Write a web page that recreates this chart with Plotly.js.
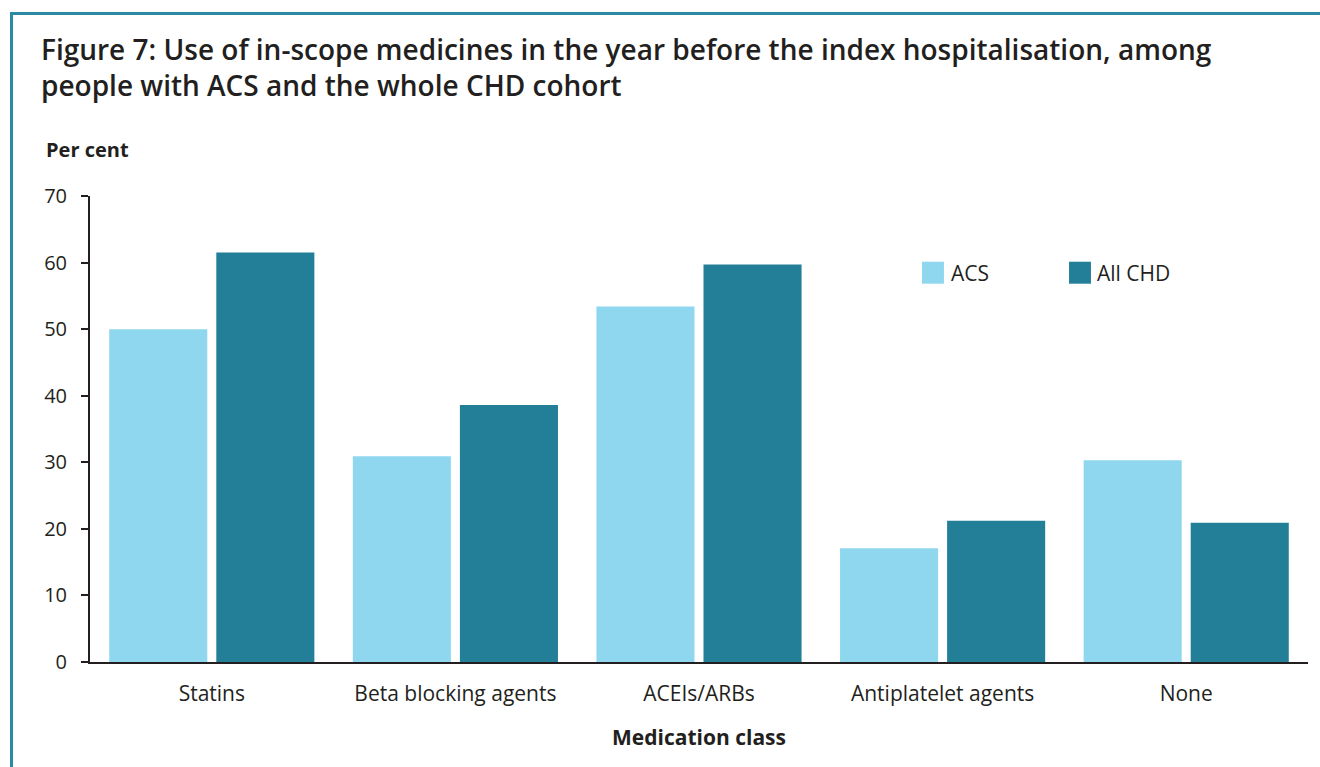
<!DOCTYPE html>
<html>
<head>
<meta charset="utf-8">
<script src="https://cdn.plot.ly/plotly-3.0.1.min.js"></script>
<style>
  html, body { margin: 0; padding: 0; background: #ffffff; }
  #frame { position: absolute; left: 10px; top: 12px; width: 1310px; height: 755px;
           border-left: 3px solid #2a8aa3; border-top: 3px solid #2a8aa3; box-sizing: border-box; }
  #chart { position: absolute; left: 0; top: 0; width: 1320px; height: 767px; }
</style>
</head>
<body>
<div id="frame"></div>
<div id="chart"></div>
<script>
const categories = ["Statins", "Beta blocking agents", "ACEIs/ARBs", "Antiplatelet agents", "None"];
const acsValues = [50.0, 30.9, 53.4, 17.1, 30.3];
const chdValues = [61.5, 38.6, 59.7, 21.2, 20.9];
const seriesNames = ["ACS", "All CHD"];
const yTicks = [0, 10, 20, 30, 40, 50, 60, 70];

const lightColor = "#8fd7ef";
const darkColor = "#237f97";
const textColor = "#231f20";
const font = "'Open Sans', 'Noto Sans', sans-serif";

const traces = [
  { type: "bar", name: seriesNames[0], x: categories, y: acsValues,
    marker: { color: lightColor }, hoverinfo: "x+y+name" },
  { type: "bar", name: seriesNames[1], x: categories, y: chdValues,
    marker: { color: darkColor }, hoverinfo: "x+y+name" }
];

const layout = {
  width: 1320, height: 767,
  paper_bgcolor: "rgba(0,0,0,0)", plot_bgcolor: "rgba(0,0,0,0)",
  margin: { l: 90, r: 12, t: 196, b: 105 },
  barmode: "group", bargap: 0.121, bargroupgap: 0.084,
  showlegend: false,
  font: { family: font, color: textColor, size: 20 },
  title: {
    text: "Figure 7: Use of in-scope medicines in the year before the index hospitalisation, among<br>people with ACS and the whole CHD cohort",
    x: 41 / 1320, xref: "container", xanchor: "left", y: 1 - 60 / 767, yref: "container", yanchor: "top",
    pad: { t: 0, l: 0 }, font: { family: font, size: 28, weight: 600, color: textColor }
  },
  xaxis: {
    type: "category", showgrid: false, zeroline: false,
    showline: true, linecolor: textColor, linewidth: 2,
    ticks: "", ticklabelstandoff: 12,
    tickfont: { family: font, size: 21, color: textColor },
    title: { text: "<b>Medication class</b>", standoff: 24,
             font: { family: font, size: 21, color: textColor } }
  },
  yaxis: {
    range: [0, 70], tickvals: yTicks, showgrid: false, zeroline: false,
    showline: true, linecolor: textColor, linewidth: 2,
    ticks: "outside", ticklen: 7, tickwidth: 2, tickcolor: textColor,
    ticklabelstandoff: 10,
    tickfont: { family: font, size: 20, color: textColor }
  },
  annotations: [
    { text: "<b>Per cent</b>", xref: "paper", yref: "paper", x: -0.0378, y: 1.1,
      xanchor: "left", yanchor: "middle", showarrow: false,
      font: { family: font, size: 20, color: textColor } },
    { text: seriesNames[0], xref: "paper", yref: "paper", x: 0.705, y: 0.834,
      xanchor: "left", yanchor: "middle", showarrow: false,
      font: { family: font, size: 21, color: textColor } },
    { text: seriesNames[1], xref: "paper", yref: "paper", x: 0.825, y: 0.834,
      xanchor: "left", yanchor: "middle", showarrow: false,
      font: { family: font, size: 21, color: textColor } }
  ],
  shapes: [
    { type: "rect", xref: "paper", yref: "paper", x0: 0.6831, x1: 0.7011, y0: 0.8118, y1: 0.859,
      fillcolor: lightColor, line: { width: 0 } },
    { type: "rect", xref: "paper", yref: "paper", x0: 0.8038, x1: 0.8218, y0: 0.8118, y1: 0.859,
      fillcolor: darkColor, line: { width: 0 } }
  ]
};

Plotly.newPlot("chart", traces, layout, { displayModeBar: false, responsive: false });
</script>
</body>
</html>
